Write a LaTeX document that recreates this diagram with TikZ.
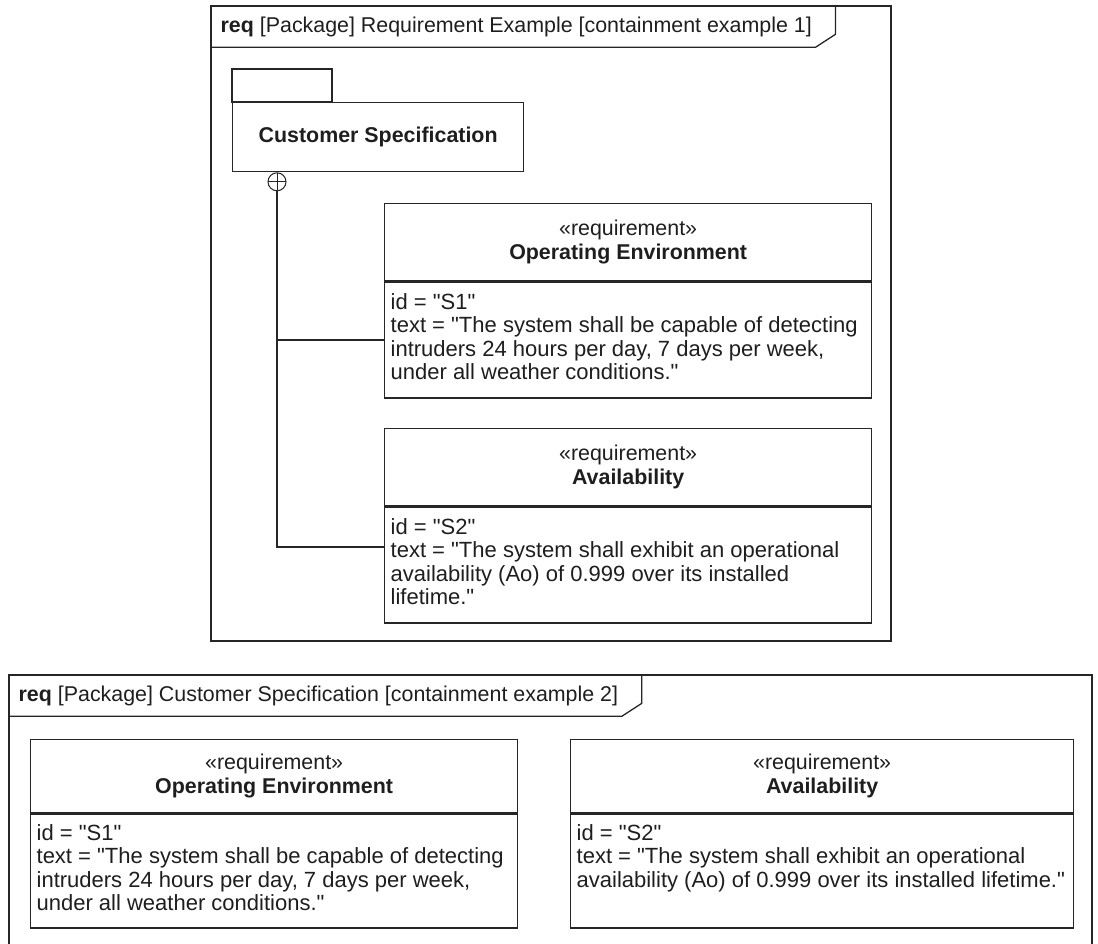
\documentclass[tikz,border=0pt]{standalone}
\usepackage{fontspec}
\setmainfont{Liberation Sans}[Ligatures=TeXOff]
\usepackage{tikz}
\usetikzlibrary{positioning}
\definecolor{umlline}{HTML}{262626}
\definecolor{umltext}{HTML}{1E1E1E}

% attribute compartment: fixed width, left aligned, never wrapped
\newcommand{\attrlines}[2]{\makebox[#1][l]{\begin{tabular}{@{}l@{}}#2\end{tabular}}}

\tikzset{
  frametitle/.style={anchor=north west, inner xsep=9, inner ysep=0, minimum height=40},
  pkgbody/.style={draw=umlline, anchor=north west, inner sep=0, minimum width=291, minimum height=69},
  reqhead/.style={draw=umlline, anchor=north west, align=center, inner sep=0,
                  minimum width=#1, minimum height=77},
  reqbody/.style={draw=umlline, inner xsep=6, inner ysep=0,
                  font=\fontsize{22}{23.5}\selectfont, minimum width=#1, minimum height=116},
  contain/.style={circle, draw=umlline, line width=1, inner sep=0, minimum size=18,
                  path picture={\draw[umlline, line width=1]
                    (path picture bounding box.north) -- (path picture bounding box.south)
                    (path picture bounding box.west) -- (path picture bounding box.east);}},
}

\begin{document}
\begin{tikzpicture}[x=1pt, y=-1pt, line width=1.3, color=umltext,
                    font=\fontsize{21.4}{23.5}\selectfont]
\useasboundingbox (0,0) rectangle (1098,944);

% containment example 1
\draw[umlline] (211,6) rectangle (891,641);
\node[frametitle] (reqtitle) at (211,6) {\textbf{req} [Package] Requirement Example [containment example 1]};
\draw[umlline] (reqtitle.south west) -- ([xshift=-6]reqtitle.south east)
  -- ([xshift=14,yshift=13]reqtitle.south east) -- ([xshift=14]reqtitle.north east);

\node[pkgbody] (custspec) at (232,102) {\textbf{Customer Specification}};
\draw[umlline] (custspec.north west) rectangle ([xshift=100,yshift=33]custspec.north west);
\node[contain, anchor=north] (cont) at ([xshift=45]custspec.south west) {};

\node[reqhead=487] (envhead) at (384,203) {«requirement»\\\textbf{Operating Environment}};
\node[reqbody=487, below=0pt of envhead] (envbody) {\attrlines{475pt}{id = "S1"\\text = "The system shall be capable of detecting\\intruders 24 hours per day, 7 days per week,\\under all weather conditions."}};

\node[reqhead=487] (availhead) at (384,428) {«requirement»\\\textbf{Availability}};
\node[reqbody=487, below=0pt of availhead] (availbody) {\attrlines{475pt}{id = "S2"\\text = "The system shall exhibit an operational\\availability (Ao) of 0.999 over its installed\\lifetime."}};

\draw[umlline] (cont.south) |- ([yshift=18]availbody.west);
\draw[umlline] (cont.south |- envbody.west) -- (envbody.west);

% containment example 2
\draw[umlline] (9,944) -- (9,675) -- (1092,675) -- (1092,944);
\node[frametitle] (spectitle) at (9,675) {\textbf{req} [Package] Customer Specification [containment example 2]};
\draw[umlline] (spectitle.south west) -- ([xshift=-6]spectitle.south east)
  -- ([xshift=14,yshift=13]spectitle.south east) -- ([xshift=14]spectitle.north east);

\node[reqhead=487, minimum height=73] (envhead2) at (30,739) {«requirement»\\\textbf{Operating Environment}};
\node[reqbody=487, minimum height=114, below=0pt of envhead2] (envbody2) {\attrlines{475pt}{id = "S1"\\text = "The system shall be capable of detecting\\intruders 24 hours per day, 7 days per week,\\under all weather conditions."}};

\node[reqhead=503, minimum height=73] (availhead2) at (570,739) {«requirement»\\\textbf{Availability}};
\node[reqbody=503, minimum height=114, below=0pt of availhead2] (availbody2) {\attrlines{491pt}{id = "S2"\\text = "The system shall exhibit an operational\\availability (Ao) of 0.999 over its installed lifetime."\\~}};
\end{tikzpicture}
\end{document}
